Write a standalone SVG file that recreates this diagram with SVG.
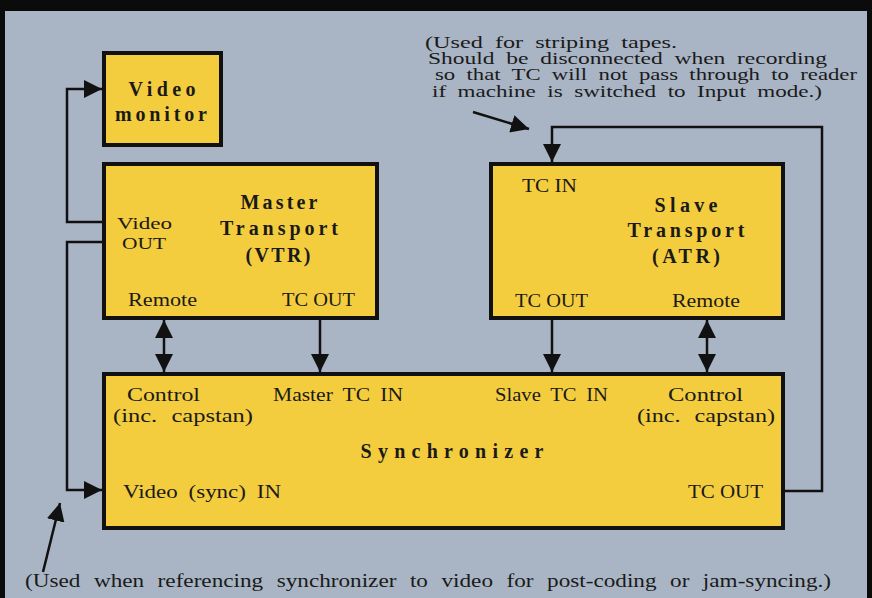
<svg xmlns="http://www.w3.org/2000/svg" width="872" height="598" viewBox="0 0 872 598">
<defs>
<marker id="big" viewBox="0 0 10 10" refX="10" refY="5" markerWidth="18" markerHeight="18" orient="auto-start-reverse" markerUnits="userSpaceOnUse"><path d="M0,0 L10,5 L0,10 z" fill="#111"/></marker>
<style>
.box{fill:#f4cd3e;stroke:#111;stroke-width:4}
.t{font-family:"Liberation Serif",serif;font-size:18px;fill:#1a1a1a}
.s{font-family:"Liberation Serif",serif;font-size:17px;fill:#1a1a1a}
.n{font-family:"Liberation Serif",serif;font-size:16px;fill:#1a1a1a}
.b{font-family:"Liberation Serif",serif;font-size:20px;font-weight:bold;fill:#1a1a1a;text-anchor:middle}
.ln{fill:none;stroke:#111;stroke-width:2.5}
</style>
</defs>
<rect width="872" height="598" fill="#0b0b0b"/>
<rect x="5" y="11" width="862" height="587" fill="#a9b5c4"/>

<g id="video-monitor">
<rect class="box" x="104" y="53" width="117" height="92"/>
<text class="b" x="162" y="96" textLength="67" lengthAdjust="spacing">Video</text>
<text class="b" x="161" y="121" textLength="92" lengthAdjust="spacing">monitor</text>
</g>

<g id="master-transport">
<rect class="box" x="104" y="164" width="273" height="154"/>
<text class="b" x="279" y="209" textLength="77" lengthAdjust="spacing">Master</text>
<text class="b" x="279" y="235" textLength="118" lengthAdjust="spacing">Transport</text>
<text class="b" x="278" y="262" textLength="65" lengthAdjust="spacing">(VTR)</text>
<text class="s" x="117" y="229" textLength="55" lengthAdjust="spacingAndGlyphs">Video</text>
<text class="s" x="122" y="249" textLength="44" lengthAdjust="spacingAndGlyphs">OUT</text>
<text class="t" x="128" y="306" textLength="69" lengthAdjust="spacingAndGlyphs">Remote</text>
<text class="t" x="282" y="306" textLength="73" lengthAdjust="spacingAndGlyphs">TC OUT</text>
</g>

<g id="slave-transport">
<rect class="box" x="491" y="164" width="292" height="154"/>
<text class="t" x="522" y="192" textLength="55" lengthAdjust="spacingAndGlyphs">TC IN</text>
<text class="b" x="686" y="212" textLength="63" lengthAdjust="spacing">Slave</text>
<text class="b" x="686" y="237" textLength="117" lengthAdjust="spacing">Transport</text>
<text class="b" x="686" y="263" textLength="68" lengthAdjust="spacing">(ATR)</text>
<text class="t" x="515" y="307" textLength="73" lengthAdjust="spacingAndGlyphs">TC OUT</text>
<text class="t" x="672" y="307" textLength="68" lengthAdjust="spacingAndGlyphs">Remote</text>
</g>

<g id="synchronizer">
<rect class="box" x="104" y="374" width="679" height="154"/>
<text class="t" x="127" y="401" textLength="73" lengthAdjust="spacingAndGlyphs">Control</text>
<text class="t" x="113" y="422" word-spacing="6" textLength="140" lengthAdjust="spacingAndGlyphs">(inc. capstan)</text>
<text class="t" x="273" y="401" word-spacing="4" textLength="130" lengthAdjust="spacingAndGlyphs">Master TC IN</text>
<text class="t" x="495" y="401" word-spacing="4" textLength="113" lengthAdjust="spacingAndGlyphs">Slave TC IN</text>
<text class="t" x="668" y="401" textLength="75" lengthAdjust="spacingAndGlyphs">Control</text>
<text class="t" x="637" y="422" word-spacing="6" textLength="138" lengthAdjust="spacingAndGlyphs">(inc. capstan)</text>
<text class="b" x="452" y="458" textLength="183" lengthAdjust="spacing">Synchronizer</text>
<text class="t" x="123" y="498" word-spacing="4" textLength="158" lengthAdjust="spacingAndGlyphs">Video (sync) IN</text>
<text class="t" x="688" y="498" textLength="75" lengthAdjust="spacingAndGlyphs">TC OUT</text>
</g>

<g id="connectors">
<path class="ln" d="M104,222 H67 V89 H102" marker-end="url(#big)"/>
<path class="ln" d="M104,242 H67 V490 H102" marker-end="url(#big)"/>
<path class="ln" d="M164,320 V372" marker-start="url(#big)" marker-end="url(#big)"/>
<path class="ln" d="M320,318 V372" marker-end="url(#big)"/>
<path class="ln" d="M552,318 V372" marker-end="url(#big)"/>
<path class="ln" d="M707,320 V372" marker-start="url(#big)" marker-end="url(#big)"/>
<path class="ln" d="M783,491 H822 V127 H552 V162" marker-end="url(#big)"/>
<path class="ln" d="M473,112 L529,129" stroke-width="3" marker-end="url(#big)"/>
<path class="ln" d="M43,572 L60,503" marker-end="url(#big)"/>
</g>

<g id="notes">
<text class="n" x="425" y="48" word-spacing="4" textLength="252" lengthAdjust="spacingAndGlyphs">(Used for striping tapes.</text>
<text class="n" x="428" y="64" word-spacing="4" textLength="399" lengthAdjust="spacingAndGlyphs">Should be disconnected when recording</text>
<text class="n" x="435" y="80" word-spacing="4" textLength="422" lengthAdjust="spacingAndGlyphs">so that TC will not pass through to reader</text>
<text class="n" x="432" y="97" word-spacing="4" textLength="390" lengthAdjust="spacingAndGlyphs">if machine is switched to Input mode.)</text>
<text class="t" x="25" y="587" word-spacing="6" textLength="806" lengthAdjust="spacingAndGlyphs">(Used when referencing synchronizer to video for post-coding or jam-syncing.)</text>
</g>
</svg>
